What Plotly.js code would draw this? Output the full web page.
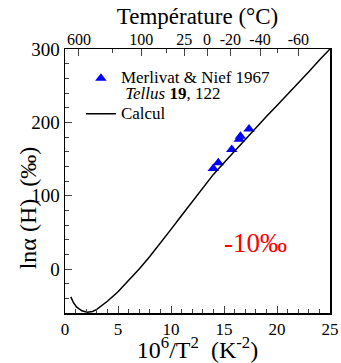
<!DOCTYPE html>
<html><head><meta charset="utf-8">
<script src="https://cdn.plot.ly/plotly-3.0.1.min.js"></script>
<style>html,body{margin:0;padding:0;background:#fff}#g{width:341px;height:363px}</style>
</head><body><div id="g"></div>
<script>
// Data
const measX = [13.99, 14.46, 15.73, 16.44, 16.55, 17.36];
const measY = [137, 145, 163, 177, 181, 191];
const calcX = [0.55, 0.8, 1.1, 1.6, 2.1, 2.6, 3.0, 4, 5, 6, 7, 8, 9, 10, 11, 12, 13, 14, 15, 16, 17, 18, 19, 20, 21, 22, 23, 24, 25];
const calcY = [-38, -46, -52, -57, -59, -58, -55, -44, -31, -16, 0, 17, 35, 54, 73, 92, 111, 129, 145, 161, 177, 192, 208, 223, 238, 254, 269, 285, 300];
const topMajorC = [600, 100, 25, 0, -20, -40, -60];
const topMinorC = [200, 50, -50];
const redLabel = "-10‰";
const yTitle = "lnα (H)  (‰)";
const measName = "Merlivat & Nief 1967";
const measRef = " <i>Tellus</i> <b>19</b>, 122";
const calcName = "Calcul";

const invT2 = c => 1e6 / Math.pow(c + 273.15, 2);
const font = "Liberation Serif";
const big = s => '<span style="font-size:17px">' + s + '</span>';

const traces = [
  {x: measX, y: measY, mode: 'markers', type: 'scatter',
   name: big(measName) + '<br>' + big(measRef),
   marker: {symbol: 'triangle-up', color: '#0000ff', size: 10}},
  {x: calcX, y: calcY, mode: 'lines', type: 'scatter', name: big(calcName),
   line: {color: '#000', width: 1.5}},
  {x: [], y: [], xaxis: 'x2', showlegend: false, hoverinfo: 'skip'},
  {x: [], y: [], xaxis: 'x3', showlegend: false, hoverinfo: 'skip'}
];

const layout = {
  width: 341, height: 363,
  margin: {l: 65, r: 11, t: 49, b: 50},
  paper_bgcolor: '#fff', plot_bgcolor: '#fff',
  font: {family: font, size: 17, color: '#000'},
  showlegend: true,
  legend: {x: 0.06, y: 0.945, xanchor: 'left', yanchor: 'top', bgcolor: 'rgba(0,0,0,0)',
           font: {family: font, size: 12.5, color: '#000'}, valign: 'top', tracegroupgap: 0},
  xaxis: {range: [0, 25], dtick: 5, ticks: 'inside', ticklen: 7, tickwidth: 1,
          showline: true, linewidth: 1.5, linecolor: '#000', mirror: false, showgrid: false, zeroline: false,
          minor: {dtick: 1, ticks: 'inside', ticklen: 4, tickwidth: 1},
          tickfont: {family: font, size: 17, color: '#000'},
          title: {text: "10<sup>6</sup>/T<sup>2</sup>  (K<sup>-2</sup>)", font: {family: font, size: 24, color: '#000'}, standoff: 0}},
  xaxis2: {overlaying: 'x', side: 'top', anchor: 'y', range: [0, 25],
           tickmode: 'array', tickvals: topMajorC.map(invT2), ticktext: topMajorC.map(String),
           ticks: 'inside', ticklen: 7, tickwidth: 1, showline: true, linewidth: 1.5, linecolor: '#000',
           showgrid: false, zeroline: false, tickfont: {family: font, size: 16, color: '#000'},
           ticklabelstandoff: -4,
           title: {text: "Température (°C)", font: {family: font, size: 23, color: '#000'}, standoff: 0}},
  xaxis3: {overlaying: 'x', side: 'top', anchor: 'y', range: [0, 25],
           tickmode: 'array', tickvals: topMinorC.map(invT2), showticklabels: false,
           ticks: 'inside', ticklen: 4, tickwidth: 1, showline: false, showgrid: false, zeroline: false},
  yaxis: {range: [-60, 300], dtick: 100, ticks: 'inside', ticklen: 7, tickwidth: 1,
          showline: true, linewidth: 1.5, linecolor: '#000', mirror: true, showgrid: false, zeroline: false,
          minor: {dtick: 20, ticks: 'inside', ticklen: 4, tickwidth: 1},
          tickfont: {family: font, size: 19, color: '#000'}},
  annotations: [
    {x: 18.0, y: 36, xref: 'x', yref: 'y', text: redLabel, showarrow: false,
     font: {family: font, size: 27, color: '#ff0000'}},
    {x: -0.14, y: 0.40, xref: 'paper', yref: 'paper', xanchor: 'center', yanchor: 'middle',
     text: yTitle, showarrow: false, textangle: -90,
     font: {family: font, size: 24, color: '#000'}}
  ]
};
Plotly.newPlot('g', traces, layout, {staticPlot: true, displayModeBar: false});
</script></body></html>
